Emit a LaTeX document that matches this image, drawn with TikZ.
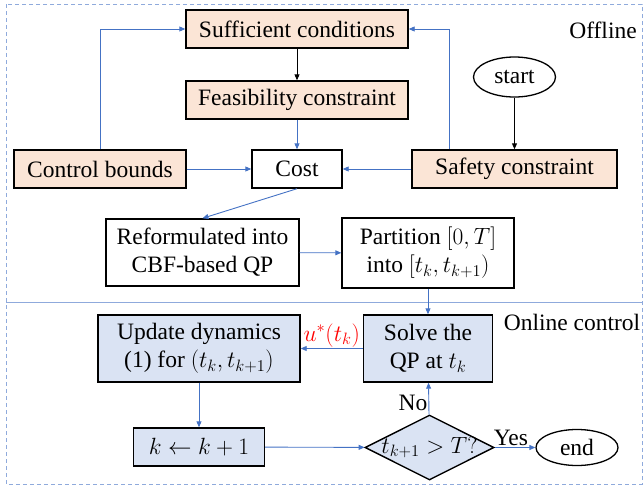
\documentclass[tikz,border=0pt]{standalone}
\usepackage{fix-cm}
\usepackage{fontspec}
\setmainfont{Liberation Serif}
\usetikzlibrary{arrows.meta, shapes.geometric}

\definecolor{arrblue}{HTML}{4472C4}
\definecolor{boxorange}{HTML}{FBE5D6}
\definecolor{boxblue}{HTML}{DAE3F3}
\definecolor{framegray}{HTML}{8FAADC}

\tikzset{
  txt/.style={font=\fontsize{23.5}{28}\selectfont, inner sep=1pt, text=black},
  blk/.style={txt, draw, line width=1.4pt, align=center, minimum height=38pt},
  offblk/.style={blk, fill=boxorange},
  onblk/.style={blk, fill=boxblue},
  term/.style={txt, ellipse, draw, line width=1.3pt},
  flowb/.style={->, arrblue, line width=0.9pt},
  flowk/.style={->, black, line width=0.9pt},
}

\begin{document}
\begin{tikzpicture}[x=1pt, y=-1pt, >={Triangle[length=6pt,width=5pt]}]
  \useasboundingbox (0,0) rectangle (643,488);

  % frame and split line
  \draw[framegray, line width=1pt, dash pattern=on 4pt off 3pt] (6,4) rectangle (642,484);
  \draw[framegray, line width=1pt] (6,302) -- (642,302);
  \node[txt] (offl) at (603,30) {Offline};
  \node[txt] (onl) at (572,322) {Online control};

  % offline part
  \node[offblk, minimum width=222pt] (suff) at (297,29) {Sufficient conditions};
  \node[offblk, minimum width=222pt] (feas) at (297,100) {Feasibility constraint};
  \node[term, minimum width=82pt, minimum height=40pt] (start) at (514.5,77) {start};
  \node[offblk, minimum width=172pt] (ctrl) at (100,169) {Control bounds};
  \node[blk, minimum width=90pt] (cost) at (297,169) {Cost};
  \node[offblk, minimum width=205pt] (safe) at (514.5,169) {Safety constraint};
  \node[blk, minimum width=193pt, minimum height=67pt] (reform) at (202.5,252.5)
    {Reformulated into\\CBF-based QP};
  \node[blk, minimum width=172pt, minimum height=70pt] (part) at (428,253)
    {Partition $[0,T]$\\into $[t_k,t_{k+1})$};

  \draw[flowk] (suff) -- (feas);
  \draw[flowk] (start) -- (safe);
  \draw[flowb] (feas) -- (cost);
  \draw[flowb] (ctrl) -- (cost);
  \draw[flowb] (safe) -- (cost);
  \draw[flowb] (ctrl.north) |- (suff.west);
  \draw[flowb] ([xshift=-65pt]safe.north) |- (suff.east);
  \draw[flowb] (cost.south) -- (reform.north);
  \draw[flowb] (reform) -- (part);

  % online part
  \node[onblk, minimum width=129pt, minimum height=67pt] (solve) at (428,348.5)
    {Solve the\\QP at $t_k$};
  \node[onblk, minimum width=202pt, minimum height=67pt] (upd) at (199,348.5)
    {Update dynamics\\(1) for $(t_k,t_{k+1})$};
  \node[onblk, minimum width=131pt] (kinc) at (199,447) {$k \leftarrow k+1$};
  \node[diamond, draw, line width=1.4pt, fill=boxblue, minimum width=129pt,
    minimum height=65pt, inner sep=0pt] (chk) at (429.5,447.5) {};
  \node[txt] (chktxt) at (chk) {$t_{k+1} > T?$};
  \node[term, minimum width=82pt, minimum height=36pt] (fin) at (577,447.5) {end};

  \draw[flowb] (part) -- (solve);
  \draw[flowb] (solve) -- node[txt, above, text=red] {$u^*(t_k)$} (upd);
  \draw[flowb] (upd) -- (kinc);
  \draw[flowb] (kinc) -- (chk);
  \draw[flowb] (chk) -- node[txt, left, pos=0.35] {No} (solve);
  \draw[flowb] (chk) -- node[txt, above, pos=0.4] {Yes} (fin);
\end{tikzpicture}
\end{document}
